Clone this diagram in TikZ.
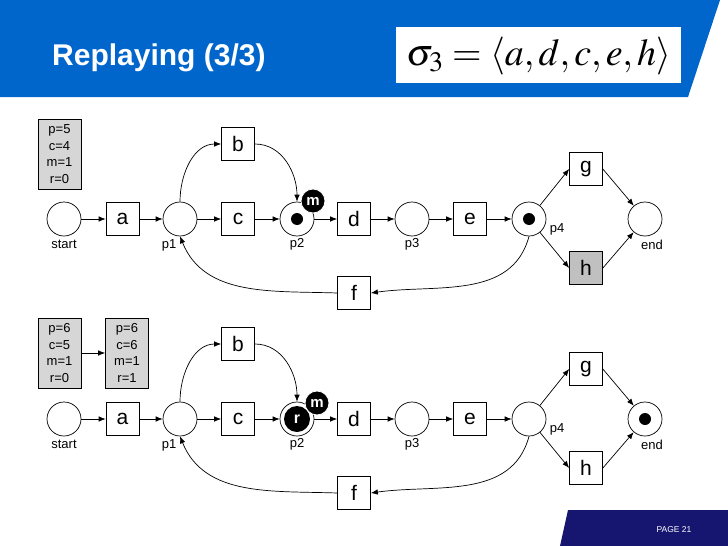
\documentclass[tikz,border=0pt]{standalone}
\usepackage{mathptmx}
\usepackage[no-math]{fontspec}
\setmainfont{Liberation Sans}
\usetikzlibrary{arrows.meta}
\definecolor{slideblue}{RGB}{0,102,204}
\definecolor{slidenavy}{RGB}{22,22,112}
\definecolor{cntgray}{RGB}{214,214,214}
\definecolor{firedgray}{RGB}{192,192,192}

\begin{document}
\begin{tikzpicture}[
  x=1pt, y=-1pt,
  place/.style={circle, draw, line width=0.7pt, minimum size=34pt, inner sep=0pt},
  trans/.style={rectangle, draw, line width=0.7pt, minimum size=33pt, inner sep=0pt,
                font=\fontsize{21}{21}\selectfont},
  arc/.style={line width=0.7pt, -{Latex[length=7pt,width=5.5pt]}},
  lbl/.style={font=\fontsize{13}{13}\selectfont, inner sep=0pt},
  counts/.style={draw, line width=0.7pt, fill=cntgray, minimum width=43pt,
                 minimum height=70pt, inner sep=0pt, align=center,
                 font=\fontsize{13}{16.5}\selectfont},
  token/.style={circle, fill=black, minimum size=12pt, inner sep=0pt},
  rtoken/.style={circle, fill=black, text=white, minimum size=26pt, inner sep=0pt,
                 font=\bfseries\fontsize{16}{16}\selectfont},
  badge/.style={circle, fill=black, draw=white, line width=0.8pt, text=white,
                minimum size=24pt, inner sep=0pt,
                font=\bfseries\fontsize{15}{15}\selectfont}]
\useasboundingbox (0,0) rectangle (728,546);

% ============================ header ============================
\fill[slideblue] (0,0) -- (720,0) -- (688,97) -- (0,97) -- cycle;
\node[text=white, anchor=base west, inner sep=0pt,
      font=\bfseries\fontsize{30}{30}\selectfont] (title) at (52,65) {Replaying (3/3)};
\fill[white] (396,27) rectangle (681,83);
\node[inner sep=0pt, font=\fontsize{38}{38}\selectfont] (trace) at (538.5,56)
  {$\sigma_{3}=\langle a,d,c,e,h\rangle$};

% ============================ footer ============================
\fill[slidenavy] (568,510) -- (728,510) -- (728,546) -- (560,546) -- cycle;
\node[text=white, inner sep=0pt, font=\fontsize{8.5}{8.5}\selectfont] (page) at (674,530) {PAGE 21};

% ====================== the two copies of the net ======================
\foreach \nt/\oy/\hcol in {u/0/firedgray, l/200/white}{
  \node[place] (start\nt) at (64,{219+\oy}) {};
  \node[trans] (a\nt) at (122.5,{219+\oy}) {a};
  \node[place] (p1\nt) at (180,{219+\oy}) {};
  \node[trans] (b\nt) at (238,{144+\oy}) {b};
  \node[trans] (c\nt) at (238,{219+\oy}) {c};
  \node[place] (p2\nt) at (297,{219+\oy}) {};
  \node[trans] (d\nt) at (354,{219+\oy}) {d};
  \node[place] (p3\nt) at (412,{219+\oy}) {};
  \node[trans] (e\nt) at (470,{219+\oy}) {e};
  \node[place] (p4\nt) at (529,{219+\oy}) {};
  \node[trans] (g\nt) at (586,{169+\oy}) {g};
  \node[trans, fill=\hcol] (h\nt) at (586,{268+\oy}) {h};
  \node[place] (end\nt) at (645,{219+\oy}) {};
  \node[trans] (f\nt) at (354,{293+\oy}) {f};
  % place names
  \node[lbl] (startlbl\nt) at (64,{244+\oy}) {start};
  \node[lbl] (p1lbl\nt) at (169,{245+\oy}) {p1};
  \node[lbl] (p2lbl\nt) at (297,{244+\oy}) {p2};
  \node[lbl] (p3lbl\nt) at (412,{244+\oy}) {p3};
  \node[lbl] (p4lbl\nt) at (557,{229+\oy}) {p4};
  \node[lbl] (endlbl\nt) at (652,{245+\oy}) {end};
  % arcs
  \draw[arc] (start\nt) -- (a\nt);
  \draw[arc] (a\nt) -- (p1\nt);
  \draw[arc] (p1\nt) -- (c\nt);
  \draw[arc] (c\nt) -- (p2\nt);
  \draw[arc] (p2\nt) -- (d\nt);
  \draw[arc] (d\nt) -- (p3\nt);
  \draw[arc] (p3\nt) -- (e\nt);
  \draw[arc] (e\nt) -- (p4\nt);
  \draw[arc] (p4\nt) -- (g\nt.west);
  \draw[arc] (p4\nt) -- (h\nt.west);
  \draw[arc] (g\nt.east) -- (end\nt);
  \draw[arc] (h\nt.east) -- (end\nt);
  \draw[arc] (p1\nt.north) to[out=90,in=180] (b\nt.west);
  \draw[arc] (b\nt.east) to[out=0,in=90] (p2\nt.north);
  \draw[arc] (p4\nt.south) to[out=-105,in=8] (f\nt.east);
  \draw[arc] (f\nt.west) to[out=178,in=-68] (p1\nt.south);
}

% ======================= upper net: marking =======================
\node[token] (tokp2u) at (p2u) {};
\node[token] (tokp4u) at (p4u) {};
\node[badge] (mu) at (313,201) {m};
\node[counts] (cntu) at (59.5,154) {p=5\\c=4\\m=1\\r=0};

% ======================= lower net: marking =======================
\node[rtoken] (tokp2l) at (p2l) {r};
\node[badge] (ml) at (317,403) {m};
\node[token] (tokendl) at (endl) {};
\node[counts] (cntl) at (59.5,353) {p=6\\c=5\\m=1\\r=0};
\node[counts] (cntr) at (127,353) {p=6\\c=6\\m=1\\r=1};
\draw[arc] (cntl) -- (cntr);

\end{tikzpicture}
\end{document}
